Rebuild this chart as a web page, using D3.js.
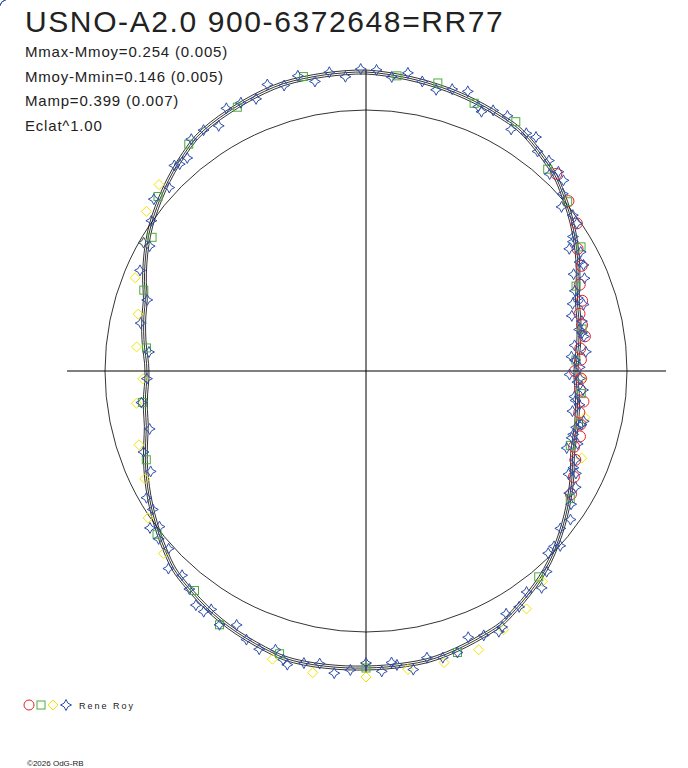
<!DOCTYPE html>
<html><head><meta charset="utf-8">
<script src="https://cdn.jsdelivr.net/npm/d3@7"></script>
<style>body{margin:0;background:#fff}svg{font-family:"Liberation Sans",Arial,sans-serif}</style>
</head><body><div id="chart"></div>
<script>
// mean curve: angle (deg, clockwise from top) -> radius (px)
const curve = [[0,299],[19,292],[33,286],[44,272],[58,247],[71,223],[90,209],[111,221],[125,245],
  [138,268],[152,287],[167,296],[180,297],[195,299],[210,289],[224,276],[239,252],[255,227],[270,218],
  [288,232],[303,258],[317,279],[325,290],[343,299],[360,299]];
const blueA = [2,5,8,11,14,17,20,23,26,29,31,34,36,38,41,43,46,48,50,53,55,57,59,61,63,65,67,69,71,73,75,77,79,81,83,85,87,89,91,93,95,97,99,101,103,105,107,109,111,113,115,117,119,121,123,126,129,132,135,138,141,144,147,150,153,156,159,162,165,168,171,174,177,180,183,186,189,192,195,198,201,204,207,210,213,216,219,222,225,228,231,234,237,240,245,250,255,262,268,275,282,288,294,300,305,309,313,317,320,323,326,329,332,335,338,341,344,347,350,353,356,359,
  24,44,58,64,72,80,86,92,98,104,108,116,133,152,175,196,214,233,300,318,331,346];
const blueD = [3,-2,5,0,-4,2,6,-3,1,4,-5,2,7,-1,3,-4,6,0,-6,3,5,-2,-8,4,2,-5,7,-3,1,6,-7,3,0,5,-4,8,-2,4,-6,1,6,-3,2,-5,7,0,-2,4,-6,3,1,-4,5,-1,3,6,-2,4,-5,2,7,-3,1,-4,5,0,-6,3,2,-3,6,-1,4,-5,2,6,-2,0,5,-4,3,1,-6,4,-2,6,0,-3,5,-4,2,7,-1,3,-5,2,-3,4,0,-4,3,-2,5,-3,1,6,-4,2,-5,3,0,-6,4,1,-3,5,-2,4,-5,2,
  -4,3,-6,5,-3,6,-5,3,-6,4,-2,5,-3,4,-2,3,-4,2,5,-3,4,-2];
const redA = [44,50,55,60,64,68,72,75,78,81,84,87,90,92,95,98,101,104,107,110,113,117,121];
const redD = [2,3,5,1,4,2,5,1,3,6,2,4,0,5,3,6,2,4,5,1,3,2,1];
const greenA = [6,14,22,31,42,50,60,68,79,87,96,104,110,122,140,162,180,197,210,218,232,248,262,276,290,302,310,322,334,348];
const greenD = [0,3,-2,4,-3,2,5,-2,3,-1,4,2,-3,1,-2,3,0,-2,4,-3,2,-1,3,-2,1,-4,3,2,-1,2];
const yellowA = [92,102,112,140,146,152,158,165,172,180,190,198,228,236,244,252,262,268,276,284,292,300,306,312];
const yellowD = [6,8,10,4,8,6,10,7,5,9,8,6,3,6,2,7,9,4,8,6,10,3,9,7];
const cx = 366, cy = 371;

const svg = d3.select('#chart').append('svg').attr('width',688).attr('height',768);
const rOf = d3.scaleLinear().domain(curve.map(d => d[0])).range(curve.map(d => d[1]));
const pt = (a, r) => [cx + r*Math.sin(a*Math.PI/180), cy - r*Math.cos(a*Math.PI/180)];

svg.append('circle').attr('cx',cx).attr('cy',cy).attr('r',261).attr('fill','none').attr('stroke','#000').attr('stroke-width',0.8);
svg.append('line').attr('x1',67).attr('x2',666).attr('y1',cy).attr('y2',cy).attr('stroke','#000');
svg.append('line').attr('x1',cx).attr('x2',cx).attr('y1',70).attr('y2',672).attr('stroke','#000');

const line = d3.line().curve(d3.curveCatmullRomClosed);
[-2,0,2].forEach(off => {
  svg.append('path').attr('d', line(d3.range(0,360,4).map(a => pt(a, rOf(a)+off))))
    .attr('fill','none').attr('stroke','#000').attr('stroke-width',0.8);
});

const star = 'M0,-5.5Q1,-1 5.5,0Q1,1 0,5.5Q-1,1 -5.5,0Q-1,-1 0,-5.5Z';
function draw(angles, ds, fn) {
  angles.forEach((a, i) => { const p = pt(a, rOf(a)+ds[i]); fn(svg.append('g').attr('transform',`translate(${p})`)); });
}
draw(yellowA, yellowD, g => g.append('path').attr('d','M0,-5L5,0L0,5L-5,0Z').attr('fill','none').attr('stroke','#f2e600'));
draw(redA, redD, g => g.append('circle').attr('r',5.5).attr('fill','none').attr('stroke','#e8202a'));
draw(greenA, greenD, g => g.append('rect').attr('x',-4).attr('y',-4).attr('width',8).attr('height',8).attr('fill','none').attr('stroke','#4aae3a'));
draw(blueA, blueD, g => g.append('path').attr('d',star).attr('fill','none').attr('stroke','#2e4fa8'));

const txt = (x,y,s,t,ls) => svg.append('text').attr('x',x).attr('y',y).attr('font-size',s)
  .attr('letter-spacing',ls).attr('fill','#222').text(t);
txt(25,32,30,'USNO-A2.0 900-6372648=RR77',1.6);
['Mmax-Mmoy=0.254 (0.005)','Mmoy-Mmin=0.146 (0.005)','Mamp=0.399 (0.007)','Eclat^1.00']
  .forEach((t,i) => txt(25,57+i*24.5,15,t,0.8));
const lg = svg.append('g');
lg.append('circle').attr('cx',29).attr('cy',705).attr('r',5).attr('fill','none').attr('stroke','#e8202a');
lg.append('rect').attr('x',37).attr('y',701).attr('width',8).attr('height',8).attr('fill','none').attr('stroke','#4aae3a');
lg.append('path').attr('d','M53,700L58,705L53,710L48,705Z').attr('fill','none').attr('stroke','#f2e600');
lg.append('path').attr('d',star).attr('transform','translate(66,705)').attr('fill','none').attr('stroke','#2e4fa8');
txt(79,709,9,'Rene Roy',2);
txt(27,766,8,'©2026 OdG-RB',0);
</script></body></html>
